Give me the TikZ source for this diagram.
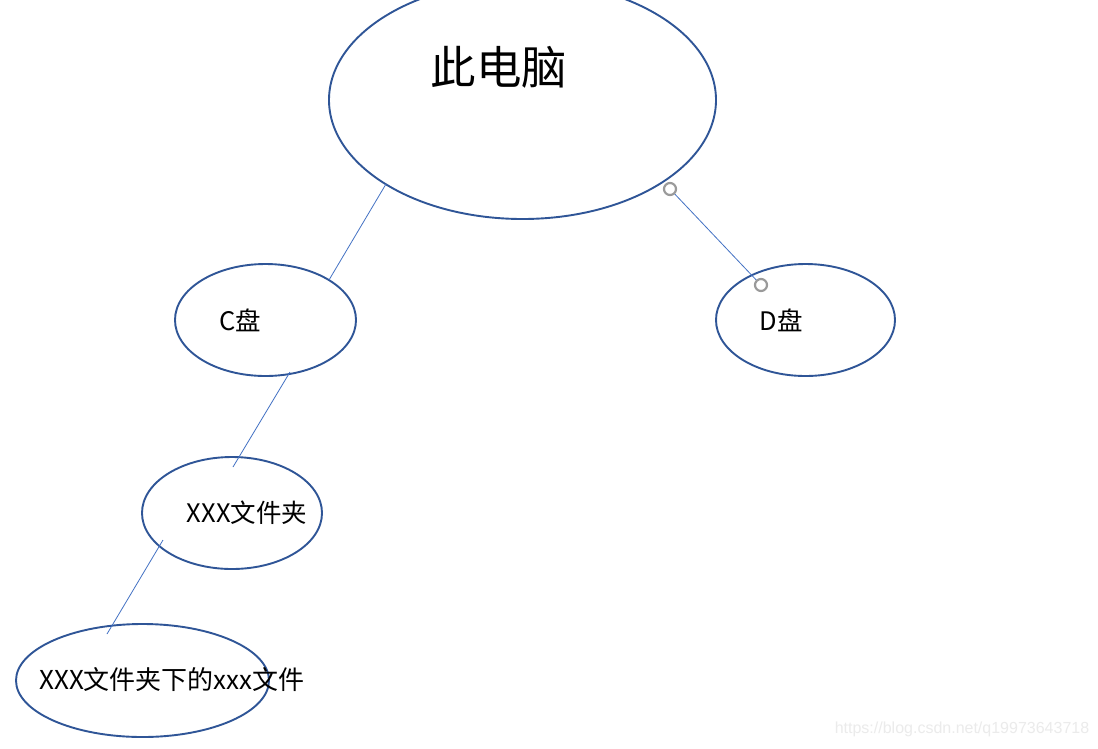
\documentclass[tikz,border=0pt]{standalone}
\usepackage{fontspec}
\newfontfamily\cjk{Noto Sans CJK SC}
\usetikzlibrary{shapes.geometric}
\definecolor{ellblue}{HTML}{2F5597}
\definecolor{lineblue}{HTML}{4472C4}
\definecolor{handle}{HTML}{9A9A9A}
\definecolor{wm}{HTML}{EBEBEB}
\tikzset{
  oval/.style={draw=ellblue, line width=1.9pt, ellipse, inner sep=0pt},
  conn/.style={draw=lineblue, line width=0.8pt},
  lbl/.style={font=\cjk, text=black, inner sep=0pt},
  grip/.style={draw=handle, line width=2.2pt, fill=white, circle, minimum size=12pt, inner sep=0pt},
}
\begin{document}
\begin{tikzpicture}[x=1pt,y=-1pt]
\useasboundingbox (0,0) rectangle (1098,748);
\fill[white] (0,0) rectangle (1098,748);
% ellipses
\node[oval, minimum width=387pt, minimum height=238pt] (pc) at (522.5,100) {};
\node[oval, minimum width=181pt, minimum height=112pt] (c) at (265.5,320) {};
\node[oval, minimum width=179pt, minimum height=112pt] (d) at (805.5,320) {};
\node[oval, minimum width=180pt, minimum height=112pt] (f) at (232,513) {};
\node[oval, minimum width=253pt, minimum height=113pt] (x) at (142.5,680.5) {};
% labels
\node[lbl, font=\cjk\fontsize{45.5}{50}\selectfont] (tpc) at (499,67) {此电脑};
\node[lbl, font=\cjk\fontsize{25.5}{30}\selectfont] (tc) at (240,320) {C盘};
\node[lbl, font=\cjk\fontsize{25.5}{30}\selectfont] (td) at (781,320) {D盘};
\node[lbl, font=\cjk\fontsize{25.5}{30}\selectfont] (tf) at (247,513) {XXX文件夹};
\node[lbl, font=\cjk\fontsize{26}{30}\selectfont] (tx) at (172,680) {XXX文件夹下的xxx文件};
% connector endpoints
\coordinate (a1) at (386,184);
\coordinate (a2) at (329,280);
\coordinate (b1) at (670,189);
\coordinate (b2) at (761,285);
\coordinate (c1) at (290,372);
\coordinate (c2) at (233,467);
\coordinate (e1) at (163,540);
\coordinate (e2) at (107,634);
% connectors
\draw[conn] (a1) -- (a2);
\draw[conn] (b1) -- (b2);
\draw[conn] (c1) -- (c2);
\draw[conn] (e1) -- (e2);
\node[grip] (g1) at (b1) {};
\node[grip] (g2) at (b2) {};
% watermark
\node[font=\fontspec{Liberation Sans}\fontsize{16}{18}\selectfont, text=wm, inner sep=0pt] (wmk) at (962,729) {https://blog.csdn.net/q19973643718};
\end{tikzpicture}
\end{document}
